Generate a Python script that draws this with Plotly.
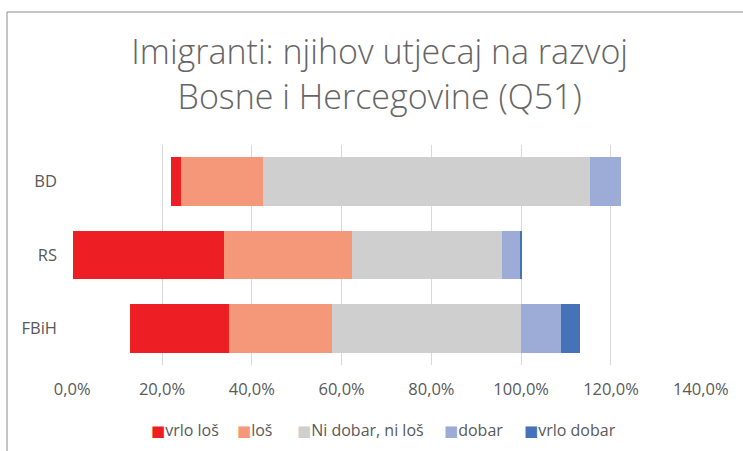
import plotly.graph_objects as go

categories = ["BD", "RS", "FBiH"]
offset = [0.220, 0.002, 0.128]
vrlo_los = [0.023, 0.336, 0.221]
los = [0.182, 0.285, 0.230]
neutral = [0.729, 0.334, 0.421]
dobar = [0.068, 0.042, 0.088]
vrlo_dobar = [0.0, 0.003, 0.042]

series_names = ["vrlo loš", "loš", "Ni dobar, ni loš", "dobar", "vrlo dobar"]
series_values = [vrlo_los, los, neutral, dobar, vrlo_dobar]
colors = ["#ED1F24", "#F5987A", "#CFCFCF", "#9DACD6", "#4672BA"]
x_ticks = [0, 0.2, 0.4, 0.6, 0.8, 1.0, 1.2, 1.4]

W, H = 743, 451
ML, MR, MT, MB = 72, 42, 145, 86

fig = go.Figure()
fig.add_trace(go.Bar(y=categories, x=offset, orientation="h",
                     marker=dict(color="rgba(0,0,0,0)", line=dict(width=0)),
                     showlegend=False, hoverinfo="skip"))
for name, vals, col in zip(series_names, series_values, colors):
    fig.add_trace(go.Bar(y=categories, x=vals, orientation="h", name=name,
                         marker=dict(color=col, line=dict(width=0)),
                         showlegend=False))

pw = W - ML - MR
ph = H - MT - MB
def px_x(p):
    return (p - ML) / pw
def px_y(p):
    return (H - MB - p) / ph

frame_x, frame_y = 7, 12
fig.add_shape(type="line", xref="paper", yref="paper",
              x0=px_x(frame_x), x1=px_x(W + 5), y0=px_y(frame_y), y1=px_y(frame_y),
              line=dict(color="#8c8c8c", width=1))
fig.add_shape(type="line", xref="paper", yref="paper",
              x0=px_x(frame_x), x1=px_x(frame_x), y0=px_y(frame_y), y1=px_y(H + 5),
              line=dict(color="#8c8c8c", width=1))

# legend (Excel-style, compact keys)
legend_left = [149, 235, 295, 442, 522]
legend_y = 430
for name, col, lx in zip(series_names, colors, legend_left):
    fig.add_annotation(
        xref="paper", yref="paper", x=px_x(lx), y=px_y(legend_y),
        xanchor="left", yanchor="middle", showarrow=False,
        text=f'<span style="color:{col};font-family:DejaVu Sans;font-size:15px">■</span>{name}',
        font=dict(family="Open Sans", size=16, color="#595959"))

fig.update_layout(
    template="none",
    width=W, height=H,
    margin=dict(l=ML, r=MR, t=MT, b=MB, autoexpand=False),
    barmode="stack", bargap=0.335,
    separators=",.",
    plot_bgcolor="white", paper_bgcolor="white",
    font=dict(family="Open Sans", color="#595959", size=16),
    title=dict(text="Imigranti: njihov utjecaj na razvoj<br>Bosne i Hercegovine (Q51)",
               x=0.511, xanchor="center", y=0.857, yanchor="middle",
               font=dict(family="Open Sans", size=34, color="#656565", weight=300)),
    showlegend=False,
    xaxis=dict(range=[-0.0005, 1.4005], tickvals=x_ticks, tickformat=".1%",
               showgrid=True, gridcolor="#d9d9d9", gridwidth=1,
               zeroline=False, showline=False, ticks="",
               ticklabelstandoff=12, tickfont=dict(size=16.5, color="#595959")),
    yaxis=dict(autorange="reversed", showgrid=False, showline=False,
               zeroline=False, ticks="", ticklabelstandoff=14,
               tickfont=dict(size=16.5, color="#595959")),
)

fig.write_html("out.html", config={"displayModeBar": False},
               post_script="document.body.style.margin='0';")
